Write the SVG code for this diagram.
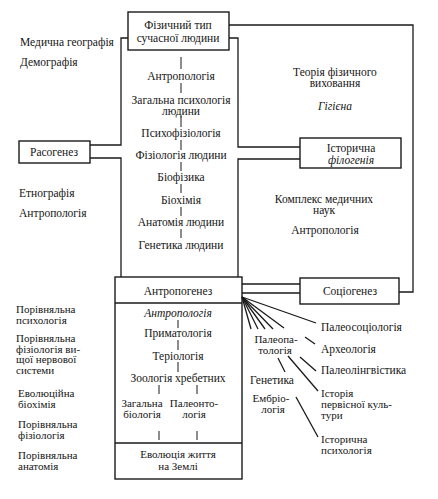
<svg xmlns="http://www.w3.org/2000/svg" width="438" height="499" viewBox="0 0 438 499">
<style>
text{font-family:'Liberation Serif','Times New Roman','DejaVu Serif',serif;font-size:11.5px;fill:#151515}
.c{text-anchor:middle}
.i{font-style:italic}
.s{font-size:11px}
.box{fill:none;stroke:#1a1a1a;stroke-width:1.4}
.ln{fill:none;stroke:#1a1a1a;stroke-width:1.3}
.tk{fill:none;stroke:#1a1a1a;stroke-width:1}
</style>
<rect width="438" height="499" fill="#ffffff"/>
<g id="connectors">
<polyline class="ln" points="128,38 121,38 121,145 90,145"/>
<polyline class="ln" points="90,158 121,158 121,277"/>
<polyline class="ln" points="229,38 238,38 238,147 300,147"/>
<polyline class="ln" points="300,159 238,159 238,277"/>
<polyline class="ln" points="229,25 413,25 413,292 399,292"/>
<line class="ln" x1="242" y1="284" x2="300" y2="284"/>
<line class="ln" x1="242" y1="293" x2="300" y2="293"/>
<g class="tk">
<line x1="181" y1="57" x2="181" y2="69"/>
<line x1="181" y1="83" x2="181" y2="93"/>
<line x1="181" y1="116" x2="181" y2="127"/>
<line x1="181" y1="140" x2="181" y2="150"/>
<line x1="181" y1="162" x2="181" y2="171"/>
<line x1="181" y1="184" x2="181" y2="193"/>
<line x1="181" y1="207" x2="181" y2="216"/>
<line x1="181" y1="229" x2="181" y2="238"/>
<line x1="178" y1="320" x2="178" y2="328"/>
<line x1="178" y1="340" x2="178" y2="350"/>
<line x1="178" y1="362" x2="178" y2="372"/>
<line x1="159" y1="385" x2="159" y2="394"/>
<line x1="197" y1="385" x2="197" y2="394"/>
<line x1="159" y1="431" x2="159" y2="440"/>
<line x1="197" y1="431" x2="197" y2="440"/>
</g>
<g class="ln">
<line x1="242" y1="297" x2="316" y2="323"/>
<line x1="242" y1="297" x2="251" y2="329"/>
<line x1="242" y1="297" x2="258" y2="329"/>
<line x1="242" y1="297" x2="265" y2="329"/>
<line x1="242" y1="297" x2="273" y2="329"/>
<line x1="242" y1="297" x2="284" y2="328"/>
<line x1="305" y1="337" x2="315" y2="344"/>
<line x1="300" y1="357" x2="316" y2="371"/>
<line x1="288" y1="356" x2="318" y2="391"/>
<line x1="278" y1="358" x2="285" y2="372"/>
<line x1="296" y1="397" x2="318" y2="437"/>
</g>
</g>
<g id="fizychnyi-typ">
<rect class="box" x="128" y="12" width="101" height="38"/>
<text class="c" x="178" y="29">Фізичний тип</text>
<text class="c" x="178" y="42">сучасної людини</text>
</g>
<g id="middle-column">
<text class="c" x="181" y="80">Антропологія</text>
<text class="c" x="181" y="104">Загальна психологія</text>
<text class="c" x="181" y="115">людини</text>
<text class="c" x="181" y="137">Психофізіологія</text>
<text class="c" x="181" y="159">Фізіологія людини</text>
<text class="c" x="181" y="181">Біофізика</text>
<text class="c" x="181" y="204">Біохімія</text>
<text class="c" x="181" y="226">Анатомія людини</text>
<text class="c" x="181" y="249">Генетика людини</text>
</g>
<g id="rasogenez">
<rect class="box" x="19" y="141" width="71" height="22"/>
<text class="c" x="54" y="156">Расогенез</text>
</g>
<g id="istorychna-filogeniia">
<rect class="box" x="300" y="138" width="101" height="30"/>
<text class="c" x="351" y="152">Історична</text>
<text class="c i" x="351" y="164">філогенія</text>
</g>
<g id="sotsiogenez">
<rect class="box" x="300" y="278" width="99" height="26"/>
<text class="c" x="350" y="295">Соціогенез</text>
</g>
<g id="antropogenez">
<rect class="box" x="115" y="277" width="127" height="202"/>
<line class="box" x1="115" y1="303" x2="242" y2="303"/>
<line class="box" x1="115" y1="443" x2="242" y2="443"/>
<text class="c" x="178" y="295">Антропогенез</text>
<text class="c i" x="178" y="317">Антропологія</text>
<text class="c" x="178" y="337">Приматологія</text>
<text class="c" x="178" y="360">Теріологія</text>
<text class="c" x="178" y="382">Зоологія хребетних</text>
<text class="c s" x="142" y="407">Загальна</text>
<text class="c s" x="142" y="418">біологія</text>
<text class="c s" x="194" y="407">Палеонто-</text>
<text class="c s" x="194" y="418">логія</text>
<text class="c s" x="178" y="458">Еволюція життя</text>
<text class="c s" x="178" y="470">на Землі</text>
</g>
<g id="left-labels">
<text x="20" y="46">Медична географія</text>
<text x="20" y="66">Демографія</text>
<text x="19" y="197">Етнографія</text>
<text x="19" y="217">Антропологія</text>
<text class="s" x="16" y="313">Порівняльна</text>
<text class="s" x="16" y="324">психологія</text>
<text class="s" x="16" y="342">Порівняльна</text>
<text class="s" x="16" y="352.5">фізіологія ви-</text>
<text class="s" x="16" y="363">щої нервової</text>
<text class="s" x="16" y="373.5">системи</text>
<text class="s" x="18" y="397">Еволюційна</text>
<text class="s" x="18" y="408">біохімія</text>
<text class="s" x="18" y="428">Порівняльна</text>
<text class="s" x="18" y="439">фізіологія</text>
<text class="s" x="18" y="459">Порівняльна</text>
<text class="s" x="18" y="470">анатомія</text>
</g>
<g id="right-labels">
<text class="c" x="335" y="76">Теорія фізичного</text>
<text class="c" x="335" y="87">виховання</text>
<text class="c i" x="335" y="110">Гігієна</text>
<text class="c" x="324" y="203">Комплекс медичних</text>
<text class="c" x="324" y="214">наук</text>
<text class="c" x="325" y="234">Антропологія</text>
</g>
<g id="fan-labels">
<text x="321" y="331">Палеосоціологія</text>
<text x="321" y="353">Археологія</text>
<text x="321" y="374">Палеолінгвістика</text>
<text class="s" x="321" y="397">Історія</text>
<text class="s" x="321" y="408">первісної куль-</text>
<text class="s" x="321" y="419">тури</text>
<text class="s" x="321" y="443">Історична</text>
<text class="s" x="321" y="454">психологія</text>
<text class="c s" x="276" y="343">Палеопа-</text>
<text class="c s" x="275" y="354">тологія</text>
<text class="c" x="272" y="384">Генетика</text>
<text class="c s" x="271" y="402">Ембріо-</text>
<text class="c s" x="273" y="413">логія</text>
</g>
</svg>
